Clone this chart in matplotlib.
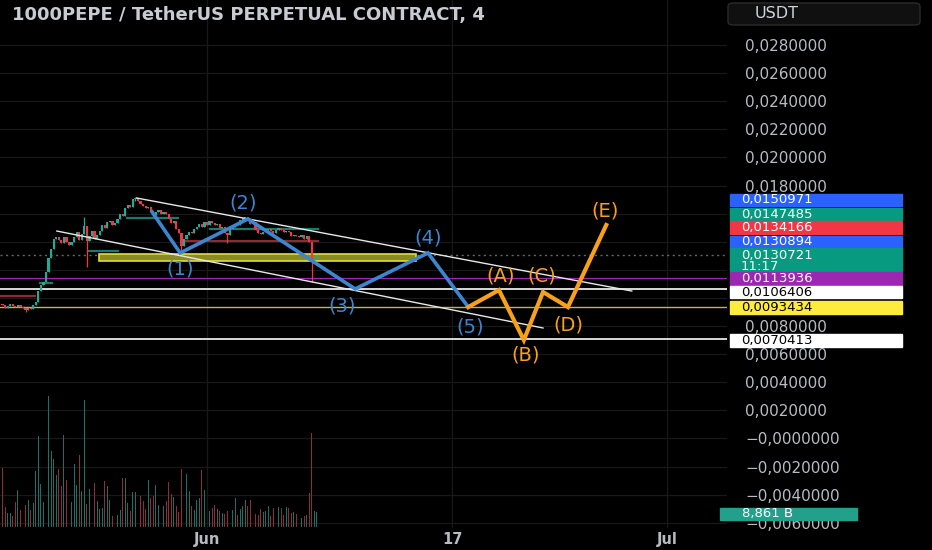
import matplotlib
matplotlib.use("Agg")
import matplotlib.dates as mdates
import matplotlib.pyplot as plt
import numpy as np
import pandas as pd
from matplotlib.patches import FancyBboxPatch, Rectangle


# 4h candles, 1000PEPE/USDT perp
closes = [
    0.00950, 0.00928, 0.00942, 0.00957, 0.00940, 0.00935, 0.00948, 0.00938, 0.00928, 0.00914,
    0.00930, 0.00922, 0.00950, 0.00971,
    0.01049, 0.01092, 0.01113, 0.01184, 0.01284, 0.01348, 0.01419,
    0.01434, 0.01412, 0.01391, 0.01434, 0.01398, 0.01377, 0.01398, 0.01434, 0.01469, 0.01412, 0.01455,
    0.01512, 0.01405, 0.01441, 0.01476, 0.01419, 0.01448, 0.01476, 0.01519, 0.01498, 0.01540,
    0.01547, 0.01519, 0.01533, 0.01562, 0.01597, 0.01583, 0.01640, 0.01661, 0.01650, 0.01704, 0.01711,
    0.01690, 0.01668, 0.01654, 0.01640, 0.01647, 0.01619, 0.01590, 0.01612, 0.01626, 0.01597, 0.01612, 0.01597,
    0.01562, 0.01533, 0.01548, 0.01491, 0.01462,
    0.01369,
    0.01419, 0.01448, 0.01469, 0.01462, 0.01490, 0.01505, 0.01526, 0.01505, 0.01540, 0.01519,
    0.01547, 0.01533, 0.01519, 0.01526, 0.01498, 0.01505, 0.01462, 0.01448,
    0.01490, 0.01505, 0.01526, 0.01519, 0.01555, 0.01569, 0.01576, 0.01562,
    0.01526, 0.01540, 0.01483, 0.01462, 0.01455, 0.01469, 0.01483, 0.01490, 0.01476, 0.01462,
    0.01483, 0.01498, 0.01483, 0.01469, 0.01476, 0.01469,
    0.01441, 0.01448, 0.01441, 0.01434, 0.01448, 0.01419, 0.01441, 0.01398, 0.01256, 0.01284, 0.013072,
]
first_open = 0.00960

# volume in billions
volumes = [
    34.8, 11.8, 8.3, 8.3, 6.5, 14.8, 21.8, 10.0, 8.9, 13.0,
    15.9, 10.0, 14.2, 33.0, 53.7, 25.4, 14.8, 17.7, 77.3, 44.8,
    40.1, 30.7, 34.2, 24.2, 54.3, 27.7, 15.9, 14.8, 37.2, 24.8,
    42.5, 21.2, 74.9, 13.6, 22.4, 19.5, 26.0, 15.3, 10.6, 11.2,
    27.1, 24.2, 15.9, 6.5, 14.8, 7.1, 10.0, 28.9, 28.9, 14.2,
    9.4, 20.7, 20.7, 24.2, 18.3, 15.3, 10.6, 27.7, 17.1, 18.3,
    24.8, 13.0, 7.7,
    12.4, 15.3, 26.6, 19.5, 17.7, 12.4, 8.9, 34.2, 21.8, 31.3,
    21.2, 12.4, 10.0, 15.9, 17.1, 33.6, 21.8, 13.6, 9.4, 11.2,
    13.0, 10.6, 9.4, 8.3, 7.7, 9.4, 10.6, 10.0, 17.1, 7.1,
    10.6,
    12.4, 15.9, 12.4, 15.9, 7.7, 7.7, 7.1, 10.6, 8.9, 9.4,
    12.4, 6.5, 11.2, 10.0, 11.8, 11.2, 7.1, 11.8, 11.2, 8.3,
    8.9, 7.7, 5.9, 5.3, 6.5, 7.1, 20.1, 55.5, 9.4, 8.9,
]
volume_tag = "8,861 B"
volume_tag_pos = 7.7

# candles with visible wicks
wick_idx = [9, 32, 33, 52, 70, 88, 121]
wick_low = [0.00900, 0.01455, 0.01220, 0.01690, 0.01320, 0.01391, 0.01113]
wick_high = [0.00928, 0.01576, 0.01512, 0.01718, 0.01462, 0.01462, 0.01398]

# Elliott wave drawing
blue_times = ["2024-05-28 10:00", "2024-05-30 06:00", "2024-06-03 16:00",
              "2024-06-10 16:00", "2024-06-15 10:00", "2024-06-18 01:00"]
blue_prices = [0.01612, 0.01320, 0.01562, 0.01064, 0.01320, 0.00935]
blue_labels = ["(1)", "(2)", "(3)", "(4)", "(5)"]
blue_label_times = ["2024-05-30 06:00", "2024-06-03 08:00", "2024-06-09 19:00",
                    "2024-06-15 10:00", "2024-06-18 04:00"]
blue_label_prices = [0.01206, 0.01676, 0.00943, 0.01426, 0.00793]

orange_times = ["2024-06-18 01:00", "2024-06-20 01:00", "2024-06-21 16:00",
                "2024-06-22 22:00", "2024-06-24 13:00", "2024-06-27 01:00"]
orange_prices = [0.00935, 0.01056, 0.00700, 0.01042, 0.00935, 0.01519]
orange_labels = ["(A)", "(B)", "(C)", "(D)", "(E)"]
orange_label_times = ["2024-06-20 04:00", "2024-06-21 18:00", "2024-06-22 20:00",
                      "2024-06-24 13:00", "2024-06-26 23:00"]
orange_label_prices = [0.01156, 0.00594, 0.01156, 0.00807, 0.01619]

# channel
upper_times = ["2024-05-27 10:00", "2024-06-28 17:00"]
upper_prices = [0.01711, 0.01049]
lower_times = ["2024-05-22 05:00", "2024-06-22 22:00"]
lower_prices = [0.01476, 0.00786]

# support zone
zone_start, zone_end = "2024-05-24 23:00", "2024-06-14 15:00"
zone_low, zone_high = 0.012626, 0.013125

# short level marks inside the candles
seg_starts = ["2024-05-26 19:00", "2024-05-24 06:00", "2024-05-30 10:00",
              "2024-06-01 05:00", "2024-05-18 12:00", "2024-05-21 03:00"]
seg_ends = ["2024-05-30 03:00", "2024-05-26 04:00", "2024-06-08 06:00",
            "2024-06-08 06:00", "2024-05-20 19:00", "2024-05-21 21:00"]
seg_prices = [0.01569, 0.01334, 0.01407, 0.01490, 0.01014, 0.01106]
seg_colors = ["#1d7a6a", "#1d7a6a", "#8e2a34", "#1d7a6a", "#8e2a34", "#1d7a6a"]

# full width levels
last_price = 0.0130721
level_prices = [0.0113936, 0.0106406, 0.0093434, 0.0070413]
level_colors = ["#9c27b0", "#d8d8d8", "#b9b94a", "#e8e8e8"]
level_widths = [0.9, 1.4, 1.0, 1.3]

# price tags on the right scale (stacked)
tag_texts = ["0,0150971", "0,0147485", "0,0134166", "0,0130894", "0,0130721\n11:17",
             "0,0113936", "0,0106406", "0,0093434", "0,0070413"]
tag_pos = [0.01697, 0.01597, 0.01498, 0.01398, 0.01263, 0.01135, 0.01042, 0.00935, 0.00700]
tag_colors = ["#2962ff", "#089981", "#f23645", "#2962ff", "#089981",
              "#9c27b0", "#ffffff", "#ffeb3b", "#ffffff"]
tag_text_colors = ["white"] * 6 + ["black"] * 3

# labels under the tags are left blank
price_ticks = [0.028, 0.026, 0.024, 0.022, 0.020, 0.018, 0.016, 0.014, 0.012, 0.010,
               0.008, 0.006, 0.004, 0.002, 0.0, -0.002, -0.004, -0.006]
price_tick_labels = ["0,0280000", "0,0260000", "0,0240000", "0,0220000", "0,0200000",
                     "0,0180000", "", "", "", "",
                     "0,0080000", "0,0060000", "0,0040000", "0,0020000", "\u22120,0000000",
                     "\u22120,0020000", "\u22120,0040000", "\u22120,0060000"]
date_ticks = ["2024-06-01", "2024-06-17", "2024-07-01"]
date_tick_labels = ["Jun", "17", "Jul"]

UP = "#22ab94"
DOWN = "#f23645"
BLUE = "#3d86cf"
ORANGE = "#f7a11a"
TEXT = "#b8bbc2"


def num(times):
    return mdates.date2num(pd.to_datetime(times).to_pydatetime())


def main() -> None:
    fig = plt.figure(figsize=(9.32, 5.5), dpi=100, facecolor="black")
    ax = fig.add_axes([0, 22 / 550, 727 / 932, 528 / 550])
    vax = ax.twinx()
    ax.set_facecolor("black")
    vax.patch.set_visible(False)

    x = mdates.date2num(pd.date_range("2024-05-18 16:00", periods=len(closes), freq="4h").to_pydatetime())
    c = np.array(closes)
    o = np.array([first_open] + closes[:-1])
    up = c >= o
    colors = np.where(up, UP, DOWN)
    lows = np.minimum(o, c)
    highs = np.maximum(o, c)
    for i, lo, hi in zip(wick_idx, wick_low, wick_high):
        lows[i] = min(lows[i], lo)
        highs[i] = max(highs[i], hi)

    # volume
    vcolors = np.where(up, "#1f6f66", "#8a3036")
    vax.bar(x, volumes, width=0.06, color=vcolors, zorder=1)
    vax.set_ylim(-0.59, 310.9)
    vax.yaxis.set_visible(False)
    for s in vax.spines.values():
        s.set_visible(False)
    vtr = vax.get_yaxis_transform()
    vax.add_patch(Rectangle((0.990, volume_tag_pos - 3.6), 0.189, 7.2, transform=vtr,
                            color="#22a08c", clip_on=False, zorder=6))
    vax.text(1.021, volume_tag_pos, volume_tag, transform=vtr, color="white",
             fontsize=9.5, va="center", ha="left", clip_on=False, zorder=7)

    # levels
    for p, col, lw in zip(level_prices, level_colors, level_widths):
        ax.axhline(p, color=col, lw=lw, zorder=2)
    ax.axhline(last_price, color="#55706b", lw=1.0, ls=(0, (1.5, 2.5)), zorder=2)

    # zone
    zs, ze = num([zone_start, zone_end])
    ax.add_patch(Rectangle((zs, zone_low), ze - zs, zone_high - zone_low,
                           facecolor="#8a8a22", edgecolor="#dede3c", lw=1.2, zorder=2))

    for s0, s1, p, col in zip(num(seg_starts), num(seg_ends), seg_prices, seg_colors):
        ax.plot([s0, s1], [p, p], color=col, lw=1.6, zorder=2)

    # candles
    ax.vlines(x, lows, highs, colors=colors, lw=0.9, zorder=3)
    ax.bar(x, np.maximum(np.abs(c - o), 0.00005), bottom=np.minimum(o, c),
           width=0.14, color=colors, zorder=3)

    # channel
    ax.plot(num(upper_times), upper_prices, color="#e8e8e8", lw=1.0, zorder=4)
    ax.plot(num(lower_times), lower_prices, color="#e8e8e8", lw=1.0, zorder=4)

    # waves
    ax.plot(num(blue_times), blue_prices, color=BLUE, lw=2.6, zorder=5, solid_joinstyle="miter")
    ax.plot(num(orange_times), orange_prices, color=ORANGE, lw=3.0, zorder=5, solid_joinstyle="miter")
    for t, p, s in zip(num(blue_label_times), blue_label_prices, blue_labels):
        ax.text(t, p, s, color=BLUE, fontsize=14, ha="center", va="center", zorder=6)
    for t, p, s in zip(num(orange_label_times), orange_label_prices, orange_labels):
        ax.text(t, p, s, color=ORANGE, fontsize=14, ha="center", va="center", zorder=6)

    # axes, grid
    ax.set_xlim(num(["2024-05-18 12:00", "2024-07-04 22:00"]))
    ax.set_ylim(-0.006375, 0.031203)
    ax.yaxis.tick_right()
    ax.set_yticks(price_ticks)
    ax.set_yticklabels(price_tick_labels)
    ax.set_xticks(num(date_ticks))
    ax.set_xticklabels(date_tick_labels, fontweight="bold")
    ax.tick_params(axis="y", length=0, pad=13, labelsize=11, labelcolor=TEXT)
    ax.tick_params(axis="x", length=0, pad=3, labelsize=10.5, labelcolor=TEXT)
    ax.grid(color="#181818", lw=0.9)
    ax.set_axisbelow(True)
    for s in ax.spines.values():
        s.set_visible(False)

    # price tags
    ytr = ax.get_yaxis_transform()
    for s, p, col, tcol in zip(tag_texts, tag_pos, tag_colors, tag_text_colors):
        h = 0.00178 if "\n" in s else 0.00092
        ax.add_patch(Rectangle((1.0041, p - h / 2), 0.2366, h, transform=ytr,
                               color=col, clip_on=False, zorder=8))
        ax.text(1.019, p, s, transform=ytr, color=tcol, fontsize=9.5, ha="left",
                va="center", linespacing=0.85, clip_on=False, zorder=9)

    # header
    fig.text(12 / 932, 1 - 15 / 550, "1000PEPE / TetherUS PERPETUAL CONTRACT, 4",
             color="#c8cbd2", fontsize=13, fontweight="bold", va="center", ha="left")
    fig.add_artist(FancyBboxPatch((728 / 932, 1 - 25 / 550), 192 / 932, 22 / 550,
                                  boxstyle="round,pad=0,rounding_size=0.006",
                                  transform=fig.transFigure, facecolor="#101010",
                                  edgecolor="#2a2a2a", lw=1))
    fig.text(755 / 932, 1 - 14 / 550, "USDT", color="#d1d4dc", fontsize=11.5,
             va="center", ha="left")

    fig.savefig("out.png", dpi=100, facecolor="black")
    plt.close(fig)


if __name__ == "__main__":
    main()
